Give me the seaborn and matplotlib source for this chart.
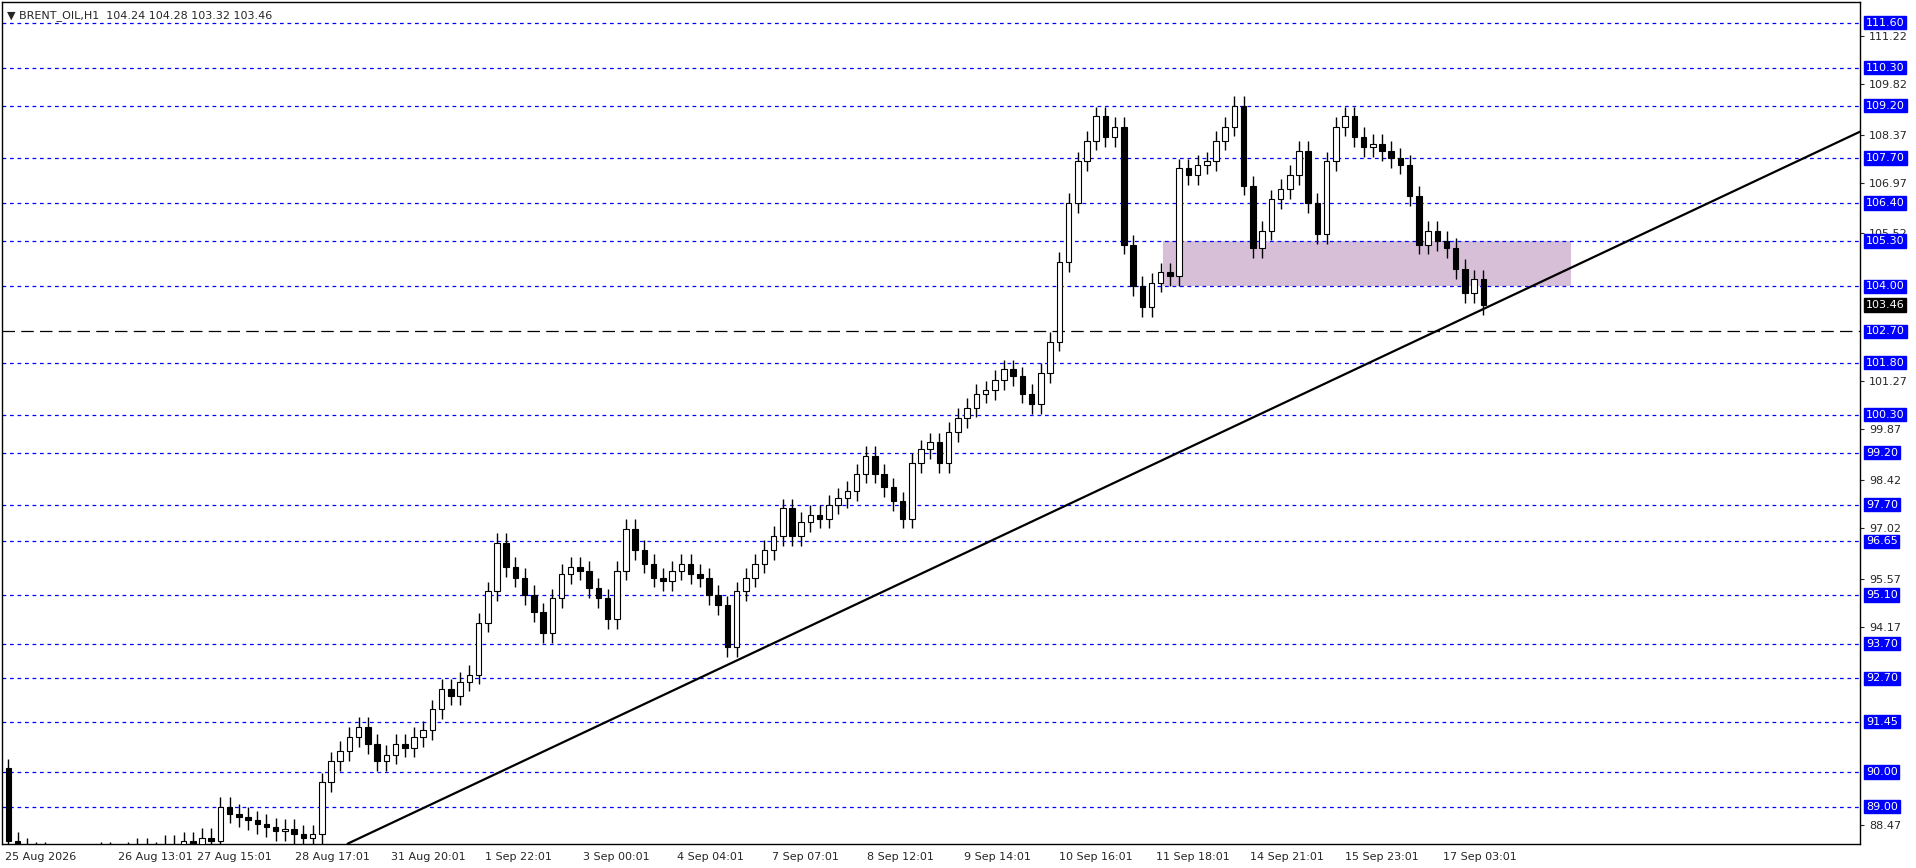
import matplotlib
matplotlib.use("Agg")
import matplotlib.pyplot as plt
import matplotlib.transforms as mtransforms
import seaborn as sns
import numpy as np
import pandas as pd

closes = [88.0, 87.8, 87.6, 87.7, 87.5, 87.6, 87.4, 87.5, 87.6, 87.5, 87.7, 87.6, 87.5, 87.7, 87.8,
          87.6, 87.7, 87.9, 87.8, 88.0, 87.9, 88.1, 88.0,
          89.0, 88.8, 88.7, 88.6, 88.5, 88.4, 88.3, 88.35, 88.2, 88.1, 88.2,
          89.7, 90.3, 90.6, 91.0, 91.3, 90.8, 90.3, 90.5, 90.8, 90.7, 91.0, 91.2, 91.8, 92.4, 92.2,
          92.6, 92.8, 94.3, 95.2, 96.6, 95.9, 95.6, 95.1, 94.6, 94.0, 95.0, 95.7, 95.9, 95.8, 95.3,
          95.0, 94.4, 95.8, 97.0, 96.4, 96.0, 95.6, 95.5, 95.8, 96.0, 95.7, 95.6, 95.1, 94.8, 93.6,
          95.2, 95.6, 96.0, 96.4, 96.8, 97.6, 96.8, 97.2, 97.4, 97.3, 97.7, 97.9, 98.1, 98.6, 99.1,
          98.6, 98.2, 97.8, 97.3, 98.9, 99.3, 99.5, 98.9, 99.8, 100.2, 100.5, 100.9, 101.0, 101.3,
          101.6, 101.4, 100.9, 100.6, 101.5, 102.4, 104.7, 106.4, 107.6, 108.2, 108.9, 108.3, 108.6,
          105.2, 104.0, 103.4, 104.1, 104.4, 104.3, 107.4, 107.2, 107.5, 107.6, 108.2, 108.6, 109.2,
          106.9, 105.1, 105.6, 106.5, 106.8, 107.2, 107.9, 106.4, 105.5, 107.6, 108.6, 108.9, 108.3,
          108.0, 108.1, 107.9, 107.7, 107.5, 106.6, 105.2, 105.6, 105.3, 105.1, 104.5, 103.8, 104.2,
          103.46]
first_open = 90.1
wick = 0.28

blue_levels = [111.60, 110.30, 109.20, 107.70, 106.40, 105.30, 104.00, 101.80, 100.30, 99.20,
               97.70, 96.65, 95.10, 93.70, 92.70, 91.45, 90.00, 89.00]
dash_level = 102.70
last_price = 103.46
plain_ticks = [111.22, 109.82, 108.37, 106.97, 105.52, 101.27, 99.87, 98.42, 97.02, 95.57, 94.17, 88.47]

x_labels = ["25 Aug 2026", "26 Aug 13:01", "27 Aug 15:01", "28 Aug 17:01", "31 Aug 20:01",
            "1 Sep 22:01", "3 Sep 00:01", "4 Sep 04:01", "7 Sep 07:01", "8 Sep 12:01",
            "9 Sep 14:01", "10 Sep 16:01", "11 Sep 18:01", "14 Sep 21:01", "15 Sep 23:01",
            "17 Sep 03:01"]
x_label_pos = [-0.4, 11.9, 20.5, 31.1, 41.5, 51.7, 62.3, 72.5, 82.8, 93.1, 103.7, 114.0, 124.5,
               134.7, 145.0, 155.6]

trend_x = [36.8, 200.9]
trend_y = [87.93, 108.46]
zone_x = [125.2, 169.5]
zone_y = [104.0, 105.3]

sns.set_style("white")
plt.rcParams['font.family'] = ['DejaVu Sans']

fig = plt.figure(figsize=(19.16, 8.68), dpi=100)
ax = fig.add_axes([0.001, 0.028, 0.970, 0.970])

idx = np.arange(len(closes))
opens = [first_open] + closes[:-1]
df = pd.DataFrame({"i": idx, "o": opens, "c": closes})
df["h"] = df[["o", "c"]].max(axis=1) + wick
df["l"] = df[["o", "c"]].min(axis=1) - wick

# zone
ax.fill_between(zone_x, zone_y[0], zone_y[1], color="#d8bfd8", zorder=1, lw=0)

for lv in blue_levels:
    ax.axhline(lv, color="#0000ff", ls=(0, (3, 3)), lw=0.9, zorder=2)
ax.axhline(dash_level, color="black", ls=(0, (10, 5)), lw=0.9, zorder=2)

# candles
ax.vlines(df["i"], df["l"], df["h"], color="black", lw=1, zorder=3)
up = df["c"] >= df["o"]
ax.bar(df["i"][up], (df["c"] - df["o"])[up].clip(lower=0.03), bottom=df["o"][up], width=0.6,
       color="white", edgecolor="black", lw=0.8, zorder=4)
ax.bar(df["i"][~up], (df["o"] - df["c"])[~up], bottom=df["c"][~up], width=0.6,
       color="black", edgecolor="black", lw=0.8, zorder=4)

sns.lineplot(x=trend_x, y=trend_y, color="black", lw=1.6, ax=ax, zorder=5)

ax.set_xlim(-0.7, 200.9)
ax.set_ylim(87.93, 112.2)

ax.yaxis.tick_right()
ax.set_yticks(plain_ticks)
ax.set_yticklabels([f"{v:.2f}" for v in plain_ticks], fontsize=8)
ax.tick_params(axis="y", length=3, pad=3)
ax.set_xticks(x_label_pos)
ax.set_xticklabels(x_labels, fontsize=8, ha="left")
ax.tick_params(axis="x", length=3, pad=3)
for s in ax.spines.values():
    s.set_color("black")
    s.set_linewidth(1)

tr = mtransforms.blended_transform_factory(ax.transAxes, ax.transData)
for lv in blue_levels + [dash_level]:
    ax.text(1.003, lv, f"{lv:.2f}", transform=tr, fontsize=8, color="white", va="center", ha="left",
            bbox=dict(boxstyle="square,pad=0.15", fc="#0000ff", ec="#0000ff"), clip_on=False)
ax.text(1.003, last_price, f"{last_price:.2f}", transform=tr, fontsize=8, color="white",
        va="center", ha="left", bbox=dict(boxstyle="square,pad=0.15", fc="black", ec="black"),
        clip_on=False)

ax.text(0.003, 0.99, "\u25bc BRENT_OIL,H1  104.24 104.28 103.32 103.46", transform=ax.transAxes,
        fontsize=8, va="top", ha="left")

fig.savefig("out.png", dpi=100)
